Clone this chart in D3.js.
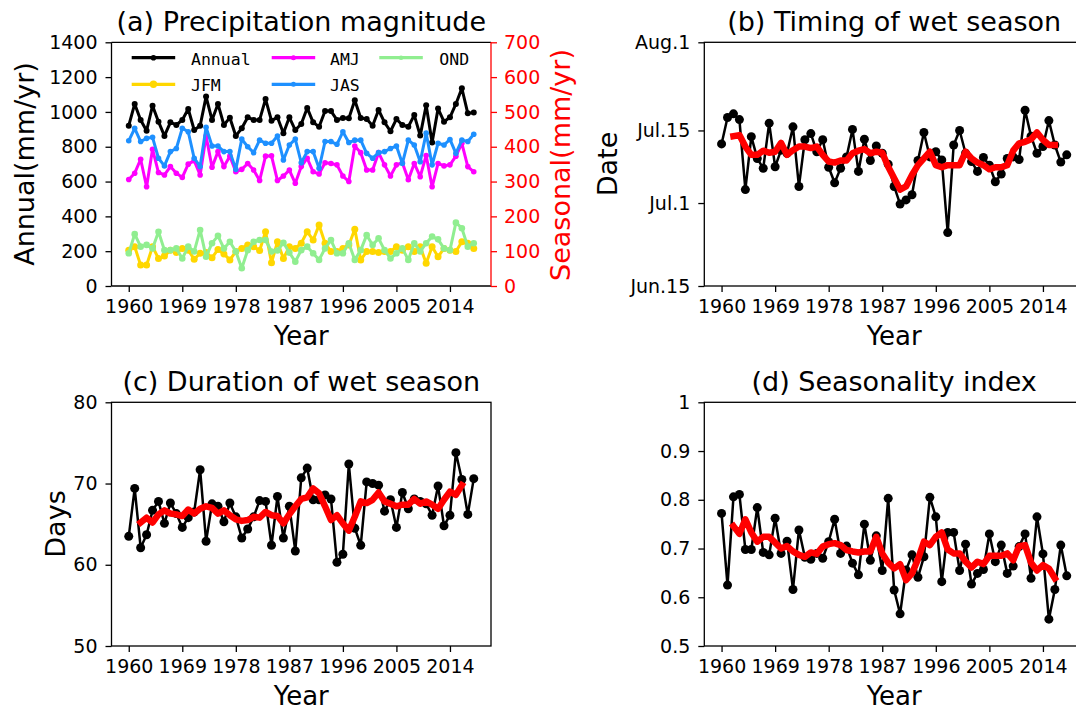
<!DOCTYPE html>
<html>
<head>
<meta charset="utf-8">
<script src="https://cdnjs.cloudflare.com/ajax/libs/d3/7.8.5/d3.min.js"></script>
<style>
  body { margin: 0; background: #fff; }
  svg text { font-family: "DejaVu Sans", sans-serif; }
</style>
</head>
<body>
<svg id="fig" width="1076" height="711"></svg>
<script>
// ---- data ----
var years = [1960,1961,1962,1963,1964,1965,1966,1967,1968,1969,
             1970,1971,1972,1973,1974,1975,1976,1977,1978,1979,
             1980,1981,1982,1983,1984,1985,1986,1987,1988,1989,
             1990,1991,1992,1993,1994,1995,1996,1997,1998,1999,
             2000,2001,2002,2003,2004,2005,2006,2007,2008,2009,
             2010,2011,2012,2013,2014,2015,2016,2017,2018];
// 5-yr running mean is plotted 1962-2016
var smoothYears = years.slice(2, 57);
var xTicks = [1960,1969,1978,1987,1996,2005,2014];

// (a) precipitation, mm/yr
var annual = [921,1046,954,892,1036,944,862,940,925,954, 1017,896,921,1088,954,1046,925,967,862,906,
              969,954,954,1074,950,969,877,969,896,931, 1023,940,915,1005,1005,954,965,963,1067,965,
              959,921,1011,940,889,959,925,915,982,864, 1038,825,1019,944,969,1046,1136,992,996];
var jfm = [103,113,60,60,113,79,86,103,96,108, 103,77,94,96,81,105,92,75,99,108,
           118,113,102,156,67,127,79,113,108,123, 156,132,175,123,99,99,108,118,163,75,
           99,99,96,99,99,113,103,113,99,113, 65,113,84,108,103,99,127,123,108];
var amj = [306,324,364,285,393,326,319,343,324,312, 350,360,319,431,341,386,343,373,328,335,
           352,333,303,373,374,303,316,333,295,343, 367,328,322,354,352,348,316,300,402,383,
           333,333,383,348,316,348,354,305,352,314, 375,285,352,345,348,373,410,343,328];
var jas = [417,453,415,424,427,367,345,386,395,453, 443,367,343,456,402,402,386,386,335,422,
           400,383,419,410,410,431,362,405,422,354, 386,386,338,415,415,407,443,412,419,419,
           381,367,383,386,395,402,352,419,405,357, 439,348,410,405,421,381,419,415,436];
var ond = [94,149,113,118,108,156,103,103,108,79, 113,99,161,84,123,144,108,127,99,51,
           103,127,132,132,99,102,124,96,70,103, 113,94,75,108,132,94,94,123,75,103,
           146,118,137,103,79,94,108,75,123,99, 123,142,134,108,103,182,166,113,123];
var annualTicks = [0,200,400,600,800,1000,1200,1400];
var seasonalTicks = [0,100,200,300,400,500,600,700];

// (b) timing of wet season, day of year
var timing = [193.4,198.5,199.2,198.1,184.6,194.8,190.6,188.7,197.4,189.0,
              192.2,191.6,196.7,185.2,194.2,195.4,191.9,194.2,188.9,185.9,
              188.7,190.9,196.2,188.1,194.3,190.2,193.0,191.6,189.5,185.2,
              181.8,182.6,183.6,190.2,195.6,190.9,191.9,190.3,176.3,193.2,
              196.0,191.6,190.0,188.1,190.8,189.3,186.1,187.6,190.6,190.9,
              190.4,199.9,194.9,191.6,192.9,197.9,193.2,189.9,191.3];
var timingSmooth = [194.9,195.1,192.9,191.3,191.3,192.1,191.7,191.9,193.6,191.3,
                    192.2,192.9,192.9,192.6,192.9,191.3,190.0,189.8,190.2,190.2,
                    191.6,192.1,192.4,191.6,191.9,191.7,189.0,186.8,184.6,185.2,
                    187.4,189.3,190.6,191.9,189.3,188.9,189.3,189.3,189.3,191.9,
                    190.6,189.8,189.3,188.5,188.9,188.9,189.3,192.1,193.5,193.8,
                    194.3,195.6,194.2,193.2,193.2];
var dateTicks = [166,182,196,213];
var dateLabels = ["Jun.15","Jul.1","Jul.15","Aug.1"];

// (c) duration of wet season, days
var duration = [63.5,69.4,62.1,63.7,66.7,67.8,65.1,67.6,66.3,64.6,
                65.8,66.5,71.7,62.9,67.5,67.2,65.3,67.6,65.9,63.3,
                64.4,65.9,67.9,67.8,62.4,68.4,63.3,67.2,61.7,70.7,
                71.9,68.0,68.0,68.6,68.1,60.3,61.3,72.4,64.5,62.4,
                70.2,70.0,69.8,66.6,68.0,64.6,68.9,66.9,68.1,67.8,
                67.5,66.1,69.7,64.8,66.1,73.8,70.5,66.2,70.6];
var durationSmooth = [65.2,65.8,65.2,66.2,66.7,66.3,66.2,66.0,66.8,66.3,
                      66.9,67.2,67.0,66.3,66.7,66.1,65.6,65.4,65.5,65.9,
                      65.8,66.5,66.1,66.0,65.1,66.2,67.2,68.1,68.3,69.4,
                      68.8,67.2,65.5,66.1,65.1,64.2,65.9,67.8,67.6,68.0,
                      68.9,67.8,67.5,67.2,67.4,67.4,68.1,67.5,67.8,67.4,
                      66.9,68.0,69.0,68.6,69.8];
var daysTicks = [50,60,70,80];

// (d) seasonality index
var seasonality = [0.772,0.625,0.806,0.811,0.698,0.698,0.784,0.692,0.687,0.762,
                   0.690,0.715,0.616,0.738,0.682,0.678,0.690,0.680,0.714,0.760,
                   0.690,0.705,0.670,0.646,0.750,0.676,0.726,0.655,0.803,0.615,
                   0.566,0.656,0.687,0.641,0.683,0.805,0.765,0.632,0.733,0.733,
                   0.655,0.709,0.627,0.649,0.657,0.730,0.673,0.707,0.649,0.664,
                   0.704,0.730,0.639,0.765,0.689,0.555,0.616,0.707,0.644];
var seasonalitySmooth = [0.746,0.730,0.760,0.733,0.714,0.724,0.724,0.712,0.700,0.705,
                         0.694,0.687,0.683,0.692,0.689,0.704,0.709,0.711,0.707,0.697,
                         0.694,0.692,0.694,0.694,0.724,0.690,0.671,0.659,0.668,0.635,
                         0.649,0.678,0.714,0.707,0.724,0.733,0.698,0.690,0.690,0.673,
                         0.661,0.673,0.668,0.685,0.685,0.685,0.690,0.676,0.705,0.707,
                         0.671,0.655,0.666,0.659,0.639];
var siTicks = [0.5,0.6,0.7,0.8,0.9,1];
var siLabels = ["0.5","0.6","0.7","0.8","0.9","1"];

// ---- drawing ----
var svg = d3.select("#fig");

var boxA = {left: 111.5, right: 491, top: 42.3, bottom: 286};
var boxB = {left: 704.3, right: 1084, top: 42.3, bottom: 286};
var boxC = {left: 111.5, right: 491, top: 402.3, bottom: 646};
var boxD = {left: 704.3, right: 1084, top: 402.3, bottom: 646};

function xScale(box) {
    return d3.scaleLinear().domain([1957.1, 2020.9]).range([box.left, box.right]);
}

function styleAxis(g, color) {
    g.select(".domain").remove();
    g.selectAll("line").attr("stroke", color).attr("stroke-width", 1.3);
    g.selectAll("text").attr("fill", color).style("font-size", "19px");
}

function xAxis(box, x) {
    var g = svg.append("g")
        .attr("transform", "translate(0," + box.bottom + ")")
        .call(d3.axisBottom(x).tickValues(xTicks).tickFormat(d3.format("d"))
              .tickSize(6).tickPadding(8));
    styleAxis(g, "black");
    svg.append("text")
        .attr("x", (box.left + box.right) / 2)
        .attr("y", box.bottom + 59)
        .attr("text-anchor", "middle")
        .style("font-size", "26px")
        .text("Year");
}

function title(box, txt) {
    svg.append("text")
        .attr("x", (box.left + box.right) / 2)
        .attr("y", box.top - 11.5)
        .attr("text-anchor", "middle")
        .style("font-size", "27px")
        .text(txt);
}

function yLabel(xb, yc, txt, color) {
    svg.append("text")
        .attr("transform", "translate(" + xb + "," + yc + ") rotate(-90)")
        .attr("text-anchor", "middle")
        .attr("fill", color)
        .style("font-size", "27px")
        .text(txt);
}

function frame(box) {
    svg.append("rect")
        .attr("x", box.left).attr("y", box.top)
        .attr("width", box.right - box.left).attr("height", box.bottom - box.top)
        .attr("fill", "none").attr("stroke", "black").attr("stroke-width", 1.3);
}

function series(x, y, xs, ys, color, lw, r) {
    var line = d3.line()
        .x(function(d, i) { return x(xs[i]); })
        .y(function(d) { return y(d); });
    svg.append("path").datum(ys)
        .attr("d", line)
        .attr("fill", "none")
        .attr("stroke", color)
        .attr("stroke-width", lw)
        .attr("stroke-linejoin", "round");
    if (r > 0) {
        svg.append("g").selectAll("circle")
            .data(ys).enter().append("circle")
            .attr("cx", function(d, i) { return x(xs[i]); })
            .attr("cy", function(d) { return y(d); })
            .attr("r", r)
            .attr("fill", color);
    }
}

function smooth(x, y, ys) {
    var line = d3.line()
        .x(function(d, i) { return x(smoothYears[i]); })
        .y(function(d) { return y(d); });
    svg.append("path").datum(ys)
        .attr("d", line)
        .attr("fill", "none")
        .attr("stroke", "red")
        .attr("stroke-width", 6.5)
        .attr("stroke-linejoin", "round")
        .attr("stroke-linecap", "square");
}

// ---------- (a) ----------
var xa = xScale(boxA);
var ya = d3.scaleLinear().domain([0, 1400]).range([boxA.bottom, boxA.top]);
var ya2 = d3.scaleLinear().domain([0, 700]).range([boxA.bottom, boxA.top]);

var ga = svg.append("g").attr("transform", "translate(" + boxA.left + ",0)")
    .call(d3.axisLeft(ya).tickValues(annualTicks).tickFormat(d3.format("d"))
          .tickSize(6).tickPadding(8));
styleAxis(ga, "black");
var ga2 = svg.append("g").attr("transform", "translate(" + boxA.right + ",0)")
    .call(d3.axisRight(ya2).tickValues(seasonalTicks).tickFormat(d3.format("d"))
          .tickSize(6).tickPadding(7));
styleAxis(ga2, "red");
xAxis(boxA, xa);

// spines
svg.append("line").attr("x1", boxA.left).attr("x2", boxA.left).attr("y1", boxA.top).attr("y2", boxA.bottom)
    .attr("stroke", "black").attr("stroke-width", 1.3);
svg.append("line").attr("x1", boxA.left).attr("x2", boxA.right).attr("y1", boxA.top).attr("y2", boxA.top)
    .attr("stroke", "black").attr("stroke-width", 1.3);
svg.append("line").attr("x1", boxA.left).attr("x2", boxA.right).attr("y1", boxA.bottom).attr("y2", boxA.bottom)
    .attr("stroke", "black").attr("stroke-width", 1.3);
svg.append("line").attr("x1", boxA.right).attr("x2", boxA.right).attr("y1", boxA.top).attr("y2", boxA.bottom)
    .attr("stroke", "red").attr("stroke-width", 1.3);

series(xa, ya, years, annual, "black", 3, 3);
series(xa, ya2, years, jfm, "#ffd700", 3, 3.5);
series(xa, ya2, years, amj, "#ff00ff", 3, 2.8);
series(xa, ya2, years, jas, "#1e90ff", 3, 2.8);
series(xa, ya2, years, ond, "#90ee90", 3, 3.3);

title(boxA, "(a) Precipitation magnitude");
yLabel(33.5, 164, "Annual(mm/yr)", "black");
yLabel(570, 165, "Seasonal(mm/yr)", "red");

// legend (3 columns, filled column by column)
var legendNames = ["Annual", "JFM", "AMJ", "JAS", "OND"];
var legendColors = ["black", "#ffd700", "#ff00ff", "#1e90ff", "#90ee90"];
var legendR = [2.8, 3.7, 2.5, 2.5, 2.3];
var legColX = [131.7, 271.7, 379.3];
var legTextX = [191, 330, 439.3];
var legRowY = [57.7, 84.3];
legendNames.forEach(function(name, i) {
    var c = Math.floor(i / 2), r = i % 2;
    svg.append("line")
        .attr("x1", legColX[c]).attr("x2", legColX[c] + 43.5)
        .attr("y1", legRowY[r]).attr("y2", legRowY[r])
        .attr("stroke", legendColors[i]).attr("stroke-width", 3.3);
    svg.append("circle")
        .attr("cx", legColX[c] + 21.75).attr("cy", legRowY[r])
        .attr("r", legendR[i]).attr("fill", legendColors[i]);
    svg.append("text")
        .attr("x", legTextX[c]).attr("y", legRowY[r] + 7)
        .style("font-family", '"DejaVu Sans Mono", monospace')
        .style("font-size", "16.5px")
        .text(name);
});

// ---------- (b) ----------
var xb = xScale(boxB);
var yb = d3.scaleLinear().domain([166, 213]).range([boxB.bottom, boxB.top]);
var gb = svg.append("g").attr("transform", "translate(" + boxB.left + ",0)")
    .call(d3.axisLeft(yb).tickValues(dateTicks)
          .tickFormat(function(d, i) { return dateLabels[i]; }).tickSize(6).tickPadding(8));
styleAxis(gb, "black");
xAxis(boxB, xb);
frame(boxB);
series(xb, yb, years, timing, "black", 2.5, 4.5);
smooth(xb, yb, timingSmooth);
title(boxB, "(b) Timing of wet season");
yLabel(617, 164, "Date", "black");

// ---------- (c) ----------
var xc = xScale(boxC);
var yc = d3.scaleLinear().domain([50, 80]).range([boxC.bottom, boxC.top]);
var gc = svg.append("g").attr("transform", "translate(" + boxC.left + ",0)")
    .call(d3.axisLeft(yc).tickValues(daysTicks).tickSize(6).tickPadding(8));
styleAxis(gc, "black");
xAxis(boxC, xc);
frame(boxC);
series(xc, yc, years, duration, "black", 2.5, 4.5);
smooth(xc, yc, durationSmooth);
title(boxC, "(c) Duration of wet season");
yLabel(65, 524, "Days", "black");

// ---------- (d) ----------
var xd = xScale(boxD);
var yd = d3.scaleLinear().domain([0.5, 1]).range([boxD.bottom, boxD.top]);
var gd = svg.append("g").attr("transform", "translate(" + boxD.left + ",0)")
    .call(d3.axisLeft(yd).tickValues(siTicks)
          .tickFormat(function(d, i) { return siLabels[i]; }).tickSize(6).tickPadding(8));
styleAxis(gd, "black");
xAxis(boxD, xd);
frame(boxD);
series(xd, yd, years, seasonality, "black", 2.5, 4.5);
smooth(xd, yd, seasonalitySmooth);
title(boxD, "(d) Seasonality index");
</script>
</body>
</html>
